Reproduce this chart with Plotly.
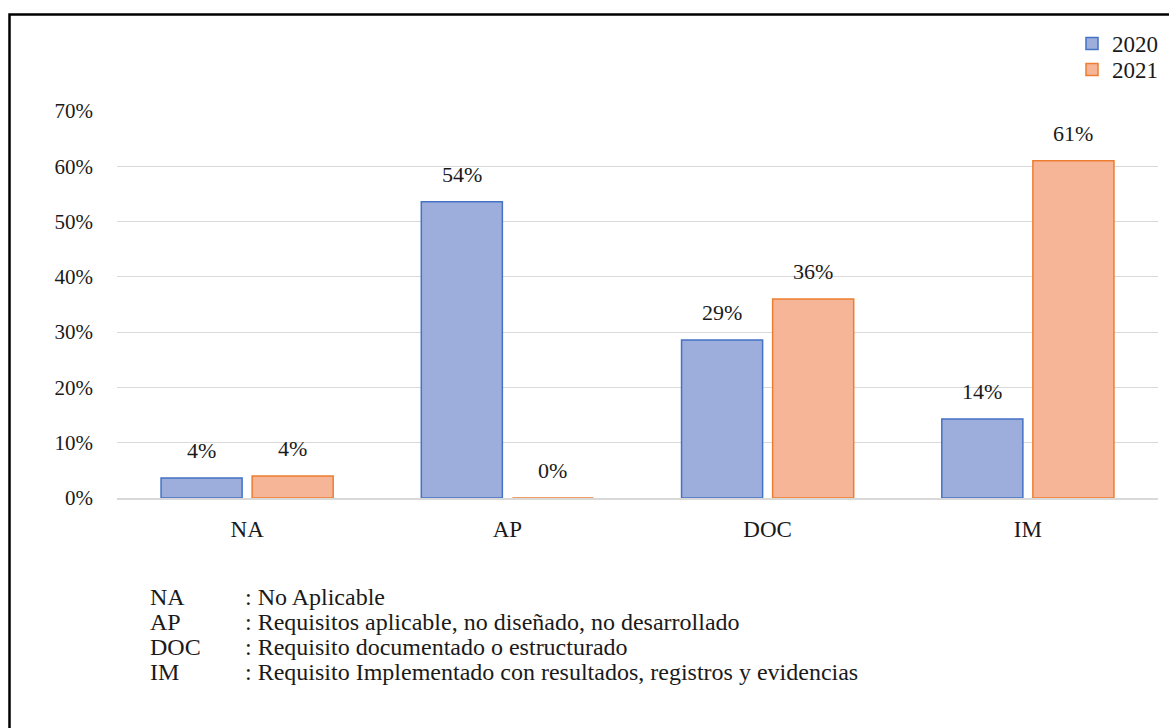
import plotly.graph_objects as go

# Data
categories = ["NA", "AP", "DOC", "IM"]
values_2020 = [0.036, 0.536, 0.286, 0.143]
values_2021 = [0.040, 0.0, 0.360, 0.610]
series_names = ["2020", "2021"]
y_ticks = [0, 0.1, 0.2, 0.3, 0.4, 0.5, 0.6, 0.7]
y_tick_labels = ["0%", "10%", "20%", "30%", "40%", "50%", "60%", "70%"]

glossary_codes = ["NA", "AP", "DOC", "IM"]
glossary_texts = [
    ": No Aplicable",
    ": Requisitos aplicable, no diseñado, no desarrollado",
    ": Requisito documentado o estructurado",
    ": Requisito Implementado con resultados, registros y evidencias",
]

FONT = "Liberation Serif"
INK = "#1a1a1a"
W, H = 1169, 728
BARGAP = 0.30

fills = ["#9DAEDD", "#F6B597"]
edges = ["#4472C4", "#ED7D31"]
legend_ids = ["legend", "legend2"]

fig = go.Figure()
for name, vals, fc, ec, lg in zip(series_names, [values_2020, values_2021], fills, edges, legend_ids):
    fig.add_trace(go.Bar(
        x=categories, y=vals, name=name, legend=lg,
        marker=dict(color=fc, line=dict(color=ec, width=1.5)),
        hoverinfo="x+y",
    ))

# Value labels above each bar, centred on the grouped bar positions
half = (1 - BARGAP) / 4
for s, vals in enumerate([values_2020, values_2021]):
    off = -half if s == 0 else half
    for i, v in enumerate(vals):
        fig.add_annotation(
            x=i + off, y=v, xref="x", yref="y", text=f"{v:.0%}",
            showarrow=False, yanchor="bottom", yshift=13,
            font=dict(family=FONT, size=22, color=INK),
        )

x0, x1 = 117 / W, 1158 / W
y0, y1 = 1 - 498 / H, 1 - 111 / H

legend_style = dict(
    xanchor="left", yanchor="top",
    font=dict(family=FONT, size=23, color=INK),
    bgcolor="rgba(0,0,0,0)", itemwidth=30, borderwidth=0,
)

fig.update_layout(
    width=W, height=H,
    margin=dict(l=0, r=0, t=0, b=0, autoexpand=False),
    paper_bgcolor="white", plot_bgcolor="white",
    barmode="group", bargap=BARGAP, bargroupgap=0.11,
    font=dict(family=FONT, size=22, color=INK),
    showlegend=True,
    legend=dict(x=1072 / W, y=1 - 22 / H, **legend_style),
    legend2=dict(x=1072 / W, y=1 - 48 / H, **legend_style),
    xaxis=dict(
        domain=[x0, x1], range=[-0.5, 3.5], showgrid=False, showline=True,
        linecolor="#D9D9D9", linewidth=1.5, ticks="",
        ticklabelstandoff=10,
        tickfont=dict(family=FONT, size=23, color=INK),
    ),
    yaxis=dict(
        domain=[y0, y1], range=[0, 0.7], tickvals=y_ticks,
        ticktext=y_tick_labels, showgrid=True, gridcolor="#D9D9D9",
        gridwidth=1.3, zeroline=False, showline=False, ticks="",
        ticklabelstandoff=23,
        tickfont=dict(family=FONT, size=21, color=INK),
    ),
)

# Outer frame (left and top edges visible)
fig.add_shape(type="rect", xref="paper", yref="paper",
              x0=9.5 / W, x1=1.02, y0=-0.02, y1=1 - 14.5 / H,
              line=dict(color="black", width=2.5), fillcolor="rgba(0,0,0,0)")

# Glossary below the chart
line_y = [597, 622, 647, 672]
for code, text, ly in zip(glossary_codes, glossary_texts, line_y):
    fig.add_annotation(x=148 / W, y=1 - ly / H, xref="paper", yref="paper",
                       text=code, showarrow=False, xanchor="left", yanchor="middle",
                       font=dict(family=FONT, size=24, color=INK))
    fig.add_annotation(x=243 / W, y=1 - ly / H, xref="paper", yref="paper",
                       text=text, showarrow=False, xanchor="left", yanchor="middle",
                       font=dict(family=FONT, size=24, color=INK))

fig.write_html("out.html")
